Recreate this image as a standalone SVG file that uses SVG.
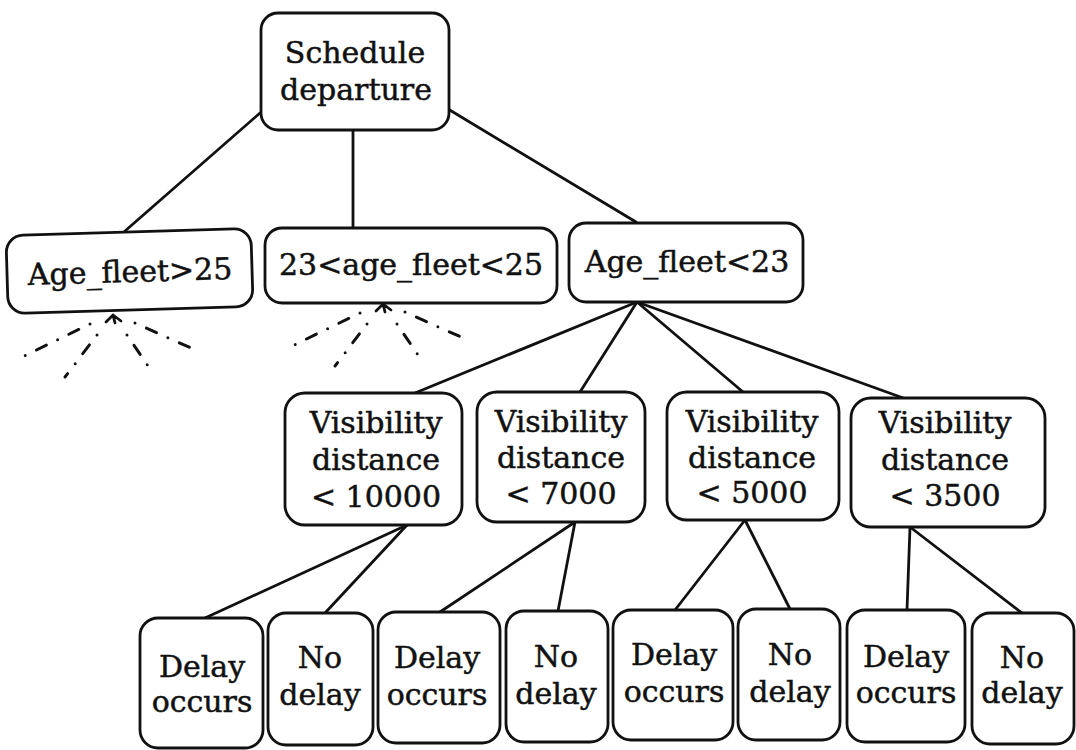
<svg xmlns="http://www.w3.org/2000/svg" width="1076" height="750" viewBox="0 0 1076 750">
  <defs>
    <style>
      .box { fill: #ffffff; stroke: #111111; stroke-width: 2.8; }
      .lbl { font-family: "DejaVu Serif", "Liberation Serif", serif; font-size: 30px; fill: #111111; stroke: #111111; stroke-width: 0.5; text-anchor: middle; }
      .edge { stroke: #111111; stroke-width: 2.8; fill: none; stroke-linecap: round; }
      .fan { stroke: #111111; stroke-width: 3; fill: none; stroke-linecap: round; stroke-dasharray: 0 12.5 11 12.5; }
    </style>
    <!-- unexpanded subtree: dash-dot fan under a node -->
    <g id="fanout">
      <path class="edge" d="M106,322 L113,315 L121,321 M113,315 L115,323"/>
      <line class="fan" x1="90" y1="324" x2="22" y2="357"/>
      <line class="fan" x1="97" y1="335" x2="65" y2="377"/>
      <line class="fan" x1="127" y1="335" x2="148" y2="366"/>
      <line class="fan" x1="135" y1="323" x2="200" y2="352"/>
    </g>
  </defs>
  <rect width="1076" height="750" fill="#ffffff"/>

  <g id="connectors">
    <line class="edge" x1="260" y1="113" x2="125" y2="231"/>
    <line class="edge" x1="353" y1="130" x2="353" y2="228"/>
    <line class="edge" x1="448" y1="109" x2="636" y2="222"/>
    <line class="edge" x1="637" y1="302" x2="415" y2="393"/>
    <line class="edge" x1="637" y1="302" x2="580" y2="392"/>
    <line class="edge" x1="637" y1="302" x2="743" y2="392"/>
    <line class="edge" x1="637" y1="302" x2="906" y2="399"/>
    <line class="edge" x1="407" y1="525" x2="205" y2="618"/>
    <line class="edge" x1="407" y1="525" x2="325" y2="613"/>
    <line class="edge" x1="575" y1="522" x2="440" y2="612"/>
    <line class="edge" x1="575" y1="522" x2="558" y2="611"/>
    <line class="edge" x1="745" y1="520" x2="675" y2="610"/>
    <line class="edge" x1="745" y1="520" x2="790" y2="609"/>
    <line class="edge" x1="910" y1="527" x2="907" y2="610"/>
    <line class="edge" x1="910" y1="527" x2="1022" y2="613"/>
    <use href="#fanout"/>
    <use href="#fanout" transform="translate(270,-11)"/>
  </g>

  <g id="root">
    <rect class="box" x="261" y="13" width="188" height="117" rx="17"/>
    <text class="lbl" x="355" y="63">Schedule</text>
    <text class="lbl" x="356" y="100">departure</text>
  </g>

  <g id="age-over-25" transform="rotate(-1.7 130 271)">
    <rect class="box" x="7" y="232" width="245" height="78" rx="17"/>
    <text class="lbl" x="130" y="282">Age_fleet&gt;25</text>
  </g>
  <g id="age-23-25">
    <rect class="box" x="265" y="228" width="292" height="75" rx="17"/>
    <text class="lbl" x="411" y="275">23&lt;age_fleet&lt;25</text>
  </g>
  <g id="age-under-23">
    <rect class="box" x="569" y="223" width="234" height="79" rx="17"/>
    <text class="lbl" x="687" y="272">Age_fleet&lt;23</text>
  </g>

  <g id="vis-10000">
    <rect class="box" x="285" y="393" width="177" height="132" rx="20"/>
    <text class="lbl" x="376" y="433">Visibility</text>
    <text class="lbl" x="376" y="470">distance</text>
    <text class="lbl" x="376" y="507">&lt; 10000</text>
  </g>
  <g id="vis-7000">
    <rect class="box" x="477" y="392" width="168" height="130" rx="20"/>
    <text class="lbl" x="561" y="432">Visibility</text>
    <text class="lbl" x="561" y="468">distance</text>
    <text class="lbl" x="561" y="504">&lt; 7000</text>
  </g>
  <g id="vis-5000">
    <rect class="box" x="667" y="392" width="172" height="128" rx="20"/>
    <text class="lbl" x="752" y="432">Visibility</text>
    <text class="lbl" x="752" y="468">distance</text>
    <text class="lbl" x="752" y="503">&lt; 5000</text>
  </g>
  <g id="vis-3500">
    <rect class="box" x="851" y="398" width="194" height="129" rx="20"/>
    <text class="lbl" x="945" y="433">Visibility</text>
    <text class="lbl" x="945" y="470">distance</text>
    <text class="lbl" x="945" y="506">&lt; 3500</text>
  </g>

  <g id="leaf-1">
    <rect class="box" x="140" y="618" width="123" height="130" rx="18"/>
    <text class="lbl" x="202" y="677">Delay</text>
    <text class="lbl" x="202" y="712">occurs</text>
  </g>
  <g id="leaf-2">
    <rect class="box" x="268" y="613" width="105" height="132" rx="18"/>
    <text class="lbl" x="320" y="668">No</text>
    <text class="lbl" x="320" y="705">delay</text>
  </g>
  <g id="leaf-3">
    <rect class="box" x="378" y="612" width="122" height="131" rx="18"/>
    <text class="lbl" x="437" y="668">Delay</text>
    <text class="lbl" x="437" y="705">occurs</text>
  </g>
  <g id="leaf-4">
    <rect class="box" x="506" y="611" width="102" height="131" rx="18"/>
    <text class="lbl" x="556" y="667">No</text>
    <text class="lbl" x="556" y="704">delay</text>
  </g>
  <g id="leaf-5">
    <rect class="box" x="613" y="610" width="120" height="130" rx="18"/>
    <text class="lbl" x="674" y="665">Delay</text>
    <text class="lbl" x="674" y="702">occurs</text>
  </g>
  <g id="leaf-6">
    <rect class="box" x="738" y="609" width="102" height="131" rx="18"/>
    <text class="lbl" x="790" y="665">No</text>
    <text class="lbl" x="790" y="702">delay</text>
  </g>
  <g id="leaf-7">
    <rect class="box" x="847" y="610" width="118" height="132" rx="18"/>
    <text class="lbl" x="906" y="667">Delay</text>
    <text class="lbl" x="906" y="703">occurs</text>
  </g>
  <g id="leaf-8">
    <rect class="box" x="972" y="613" width="102" height="131" rx="18"/>
    <text class="lbl" x="1022" y="668">No</text>
    <text class="lbl" x="1022" y="703">delay</text>
  </g>
</svg>
